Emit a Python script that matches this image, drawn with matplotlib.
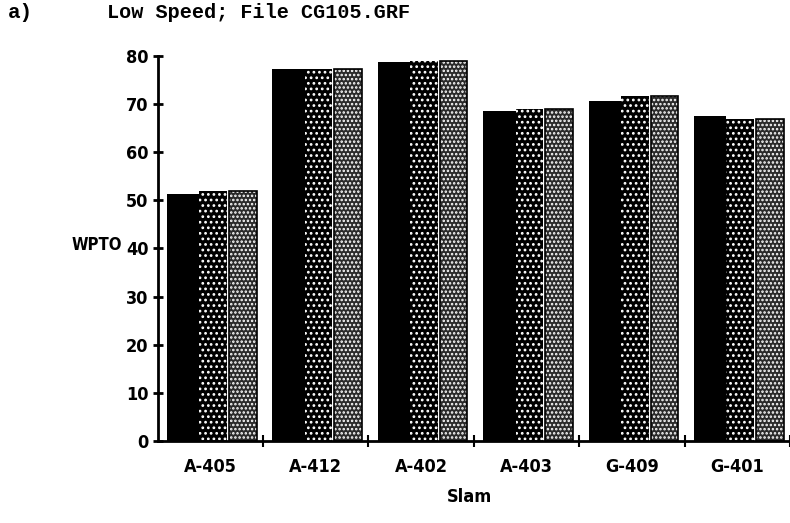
import matplotlib
matplotlib.use("Agg")
import matplotlib.pyplot as plt
import numpy as np

categories = ["A-405", "A-412", "A-402", "A-403", "G-409", "G-401"]
series_black = [51.2, 77.3, 78.6, 68.6, 70.5, 67.5]
series_stipple = [52.0, 77.3, 79.0, 68.9, 71.6, 66.8]
series_light = [52.0, 77.3, 79.0, 68.9, 71.6, 66.8]
yticks = [0, 10, 20, 30, 40, 50, 60, 70, 80]

plt.rcParams['hatch.linewidth'] = 1.2

fig = plt.figure(figsize=(7.9, 5.23), dpi=100)
ax = fig.add_axes([157.5/790, 1 - 441/523, (790 - 157.5)/790, (441 - 55.7)/523])

x = np.arange(len(categories))
bw_black = 33/107
bw_other = 28/107
off_black = 9.5/107
off_stip = 42.5/107
off_light = 72.5/107

ax.bar(x + off_black, series_black, width=bw_black, align='edge',
       color='black', edgecolor='black', linewidth=0)
ax.bar(x + off_stip, series_stipple, width=bw_other, align='edge',
       facecolor='black', edgecolor='white', hatch='...', linewidth=0)
ax.bar(x + off_light, series_light, width=bw_other, align='edge',
       facecolor='#2a2a2a', edgecolor='white', hatch='....', linewidth=0)
ax.bar(x + off_light, series_light, width=bw_other, align='edge',
       fill=False, edgecolor='black', linewidth=1.2)

ax.set_xlim(0, (790 - 157.5)/107)
ax.set_ylim(0, 80)

for s in ['top', 'right']:
    ax.spines[s].set_visible(False)
ax.spines['left'].set_linewidth(2)
ax.spines['bottom'].set_linewidth(2)

lab_font = dict(family=['DejaVu Sans'], weight='bold', size=13, stretch='condensed')

ax.set_yticks(yticks)
ax.set_yticklabels([str(v) for v in yticks], **lab_font)
ax.tick_params(axis='y', direction='inout', length=7, width=2, pad=3)

ax.set_xticks(np.arange(1, 7))
ax.set_xticklabels([])
ax.tick_params(axis='x', direction='inout', length=8, width=1.5)
for i, c in enumerate(categories):
    ax.text(i + 0.5, -0.045, c, transform=ax.get_xaxis_transform(),
            ha='center', va='top', **lab_font)

fig.text(122/790, 1 - 245/523, "WPTO", ha='right', va='center',
         family=['DejaVu Sans'], weight='bold', size=12, stretch='condensed')
fig.text(470/790, 1 - 497/523, "Slam", ha='center', va='center', **lab_font)

fig.text(8/790, 1 - 13/523, "a)", ha='left', va='center',
         family=['Liberation Mono', 'DejaVu Sans Mono'], weight='bold', size=15)
fig.text(107/790, 1 - 13/523, "Low Speed; File CG105.GRF", ha='left', va='center',
         family=['Liberation Mono', 'DejaVu Sans Mono'], weight='bold', size=14.5)

fig.savefig("out.png", dpi=100)
